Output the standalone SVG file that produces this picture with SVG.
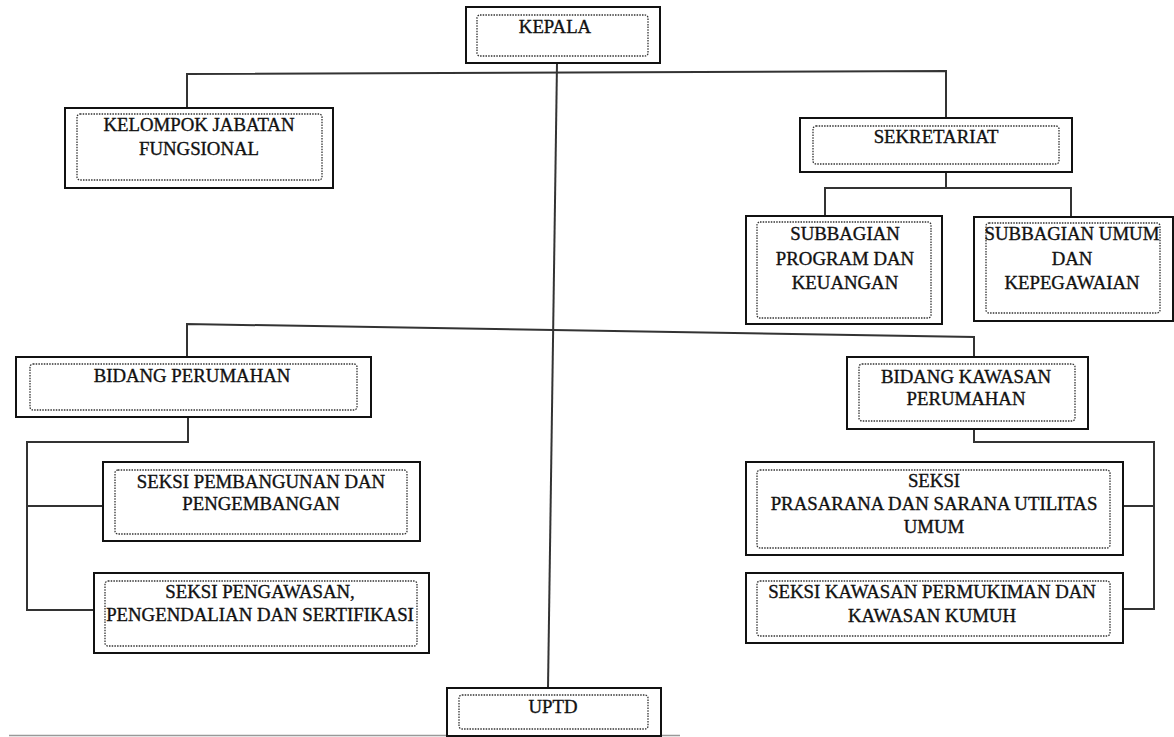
<svg xmlns="http://www.w3.org/2000/svg" width="1174" height="737" viewBox="0 0 1174 737">
<style>
.o{fill:#fff;stroke:#111;stroke-width:2}
.i{fill:none;stroke:#333;stroke-width:1.3;stroke-dasharray:1.5 1.2}
.c{fill:none;stroke:#333;stroke-width:2}
.t{font-family:'Liberation Serif','Times New Roman','DejaVu Serif',serif;font-size:18.8px;fill:#111;text-anchor:middle}
.t text{stroke:#111;stroke-width:0.35}
</style>
<rect width="1174" height="737" fill="#fff"/>
<g id="connectors">
<polyline class="c" points="187,108 187,74 946,71 946,118"/>
<polyline class="c" points="946,172 946,188"/>
<polyline class="c" points="825,216 825,188 1071,188 1071,217"/>
<polyline class="c" points="187,357 187,324 974,337 974,357"/>
<line class="c" x1="557" y1="63" x2="548" y2="688"/>
<polyline class="c" points="188,417 188,442 27,442 27,610 94,610"/>
<line class="c" x1="27" y1="506" x2="103" y2="506"/>
<polyline class="c" points="974,429 974,442 1154,442 1154,609 1123,609"/>
<line class="c" x1="1123" y1="506" x2="1154" y2="506"/>
<line x1="9" y1="735.5" x2="680" y2="735.5" stroke="#999" stroke-width="1.5"/>
</g>
<g class="t">
<g id="kepala">
<rect class="o" x="466" y="7" width="194" height="56"/>
<rect class="i" x="477" y="15" width="171" height="41" rx="3"/>
<text x="555" y="33">KEPALA</text>
</g>
<g id="kelompok">
<rect class="o" x="65" y="108" width="268" height="80"/>
<rect class="i" x="77" y="114" width="245" height="66" rx="3"/>
<text x="199" y="131">KELOMPOK JABATAN</text>
<text x="199" y="155">FUNGSIONAL</text>
</g>
<g id="sekretariat">
<rect class="o" x="800" y="118" width="272" height="54"/>
<rect class="i" x="813" y="126" width="246" height="38" rx="3"/>
<text x="936" y="143">SEKRETARIAT</text>
</g>
<g id="subbagian-program">
<rect class="o" x="746" y="216" width="196" height="108"/>
<rect class="i" x="757" y="222" width="174" height="96" rx="3"/>
<text x="845" y="240">SUBBAGIAN</text>
<text x="845" y="265">PROGRAM DAN</text>
<text x="845" y="289">KEUANGAN</text>
</g>
<g id="subbagian-umum">
<rect class="o" x="974" y="217" width="199" height="104"/>
<rect class="i" x="986" y="223" width="174" height="90" rx="3"/>
<text x="1072" y="240">SUBBAGIAN UMUM</text>
<text x="1072" y="265">DAN</text>
<text x="1072" y="289">KEPEGAWAIAN</text>
</g>
<g id="bidang-perumahan">
<rect class="o" x="16" y="357" width="355" height="60"/>
<rect class="i" x="30" y="364" width="327" height="46" rx="3"/>
<text x="192" y="382">BIDANG PERUMAHAN</text>
</g>
<g id="bidang-kawasan">
<rect class="o" x="847" y="357" width="241" height="72"/>
<rect class="i" x="859" y="364" width="216" height="57" rx="3"/>
<text x="966" y="383">BIDANG KAWASAN</text>
<text x="966" y="405">PERUMAHAN</text>
</g>
<g id="seksi-pembangunan">
<rect class="o" x="103" y="462" width="317" height="79"/>
<rect class="i" x="115" y="470" width="292" height="64" rx="3"/>
<text x="261" y="488">SEKSI PEMBANGUNAN DAN</text>
<text x="261" y="510">PENGEMBANGAN</text>
</g>
<g id="seksi-pengawasan">
<rect class="o" x="94" y="573" width="335" height="80"/>
<rect class="i" x="105" y="581" width="312" height="65" rx="3"/>
<text x="260" y="598">SEKSI PENGAWASAN,</text>
<text x="260" y="621">PENGENDALIAN DAN SERTIFIKASI</text>
</g>
<g id="seksi-prasarana">
<rect class="o" x="746" y="462" width="377" height="93"/>
<rect class="i" x="757" y="470" width="353" height="78" rx="3"/>
<text x="934" y="487">SEKSI</text>
<text x="934" y="510">PRASARANA DAN SARANA UTILITAS</text>
<text x="934" y="533">UMUM</text>
</g>
<g id="seksi-kawasan">
<rect class="o" x="746" y="573" width="377" height="70"/>
<rect class="i" x="757" y="581" width="353" height="55" rx="3"/>
<text x="932" y="598">SEKSI KAWASAN PERMUKIMAN DAN</text>
<text x="932" y="622">KAWASAN KUMUH</text>
</g>
<g id="uptd">
<rect class="o" x="447" y="688" width="214" height="48"/>
<rect class="i" x="459" y="695" width="189" height="34" rx="3"/>
<text x="553" y="713">UPTD</text>
</g>
</g>
</svg>
